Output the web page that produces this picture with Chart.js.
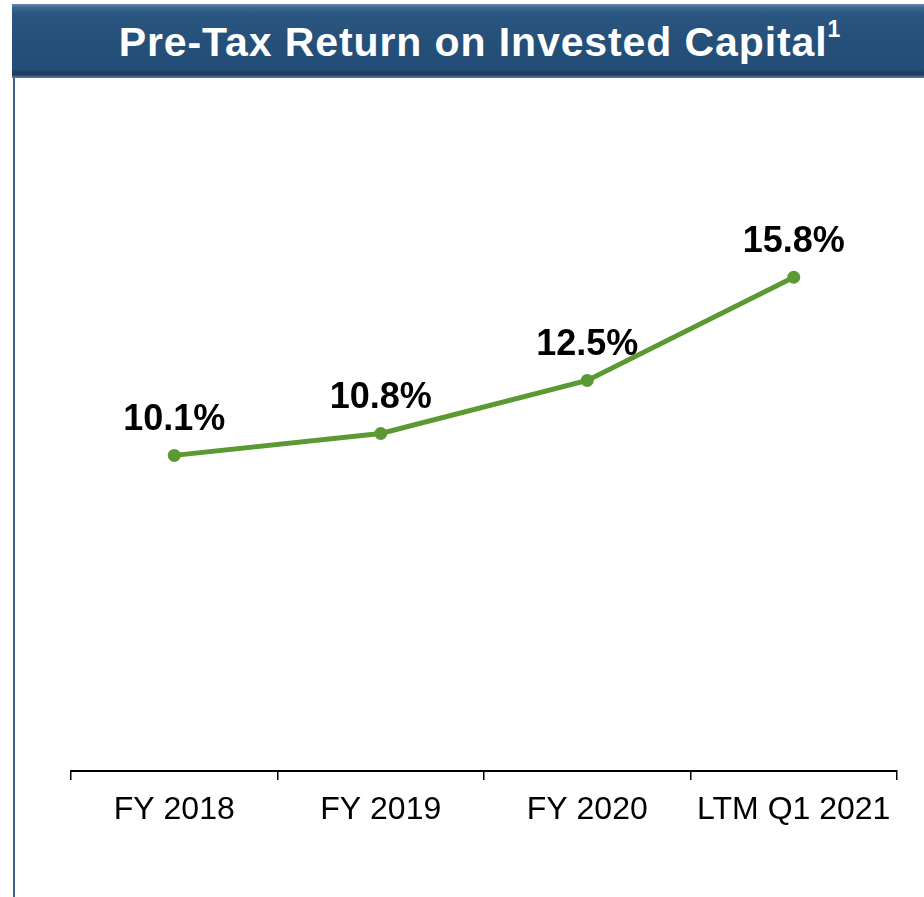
<!DOCTYPE html>
<html>
<head>
<meta charset="utf-8">
<script src="https://cdn.jsdelivr.net/npm/chart.js@4.4.0/dist/chart.umd.min.js"></script>
<style>
    body {
        margin: 0;
        width: 924px;
        height: 897px;
        background: #ffffff;
        position: relative;
        overflow: hidden;
        font-family: 'Liberation Sans', Arial, sans-serif;
    }
    #title-bar {
        position: absolute;
        left: 12px;
        top: 4px;
        width: 912px;
        height: 74px;
        background: linear-gradient(to bottom, #6f8fb4 0px, #3e6891 3px, #2a5680 10px, #245079 50%, #234d76 88%, #1b3a5a 95%, #5f7fa5 100%);
        color: #ffffff;
        font-weight: bold;
        font-size: 41px;
        letter-spacing: 0.9px;
        line-height: 76px;
        text-align: center;
        box-sizing: border-box;
        padding-left: 24px;
    }
    #title-bar sup {
        font-size: 23px;
        line-height: 0;
        position: relative;
        top: -4px;
    }
    #left-border {
        position: absolute;
        left: 13px;
        top: 78px;
        width: 2px;
        height: 819px;
        background: #3d5f88;
    }
    #chart-wrap {
        position: absolute;
        left: 0;
        top: 80px;
        width: 924px;
        height: 817px;
    }
</style>
</head>
<body>
<div id="title-bar">Pre-Tax Return on Invested Capital<sup>1</sup></div>
<div id="left-border"></div>
<div id="chart-wrap"><canvas id="roicChart" width="924" height="817"></canvas></div>

<script>
const categories = ['FY 2018', 'FY 2019', 'FY 2020', 'LTM Q1 2021'];
const roicValues = [10.1, 10.8, 12.5, 15.8];

const lineGreen = '#5b9a32';

// draws the "10.1%" style labels above each point
const pointLabels = {
    id: 'pointLabels',
    afterDatasetsDraw: function(chart) {
        const ctx = chart.ctx;
        const meta = chart.getDatasetMeta(0);
        ctx.save();
        ctx.font = 'bold 36px "Liberation Sans", Arial, sans-serif';
        ctx.fillStyle = '#000000';
        ctx.textAlign = 'center';
        ctx.textBaseline = 'middle';
        for (let i = 0; i < meta.data.length; i++) {
            const pt = meta.data[i];
            ctx.fillText(roicValues[i].toFixed(1) + '%', pt.x, pt.y - 35);
        }
        ctx.restore();
    }
};

const ctx = document.getElementById('roicChart').getContext('2d');
const roicChart = new Chart(ctx, {
    type: 'line',
    data: {
        labels: categories,
        datasets: [{
            label: 'Pre-Tax ROIC',
            data: roicValues,
            borderColor: lineGreen,
            backgroundColor: lineGreen,
            borderWidth: 5,
            pointRadius: 6.5,
            pointBorderWidth: 0,
            pointBackgroundColor: lineGreen,
            tension: 0,
            fill: false
        }]
    },
    options: {
        responsive: false,
        animation: false,
        layout: {
            padding: { left: 71, right: 27, top: 66, bottom: 0 }
        },
        plugins: {
            legend: { display: false },
            title: { display: false },
            tooltip: { enabled: false }
        },
        scales: {
            x: {
                type: 'category',
                offset: true,
                afterFit: function(scale) {
                    scale.height = 126;
                },
                grid: {
                    offset: true,
                    drawOnChartArea: false,
                    drawTicks: true,
                    tickLength: 9,
                    color: '#000000',
                    lineWidth: 1.5
                },
                border: {
                    display: true,
                    color: '#000000',
                    width: 2
                },
                ticks: {
                    color: '#000000',
                    padding: 11,
                    maxRotation: 0,
                    font: {
                        family: '"Liberation Sans", Arial, sans-serif',
                        size: 32
                    }
                }
            },
            y: {
                display: false,
                min: 0,
                max: 20
            }
        }
    },
    plugins: [pointLabels]
});
</script>
</body>
</html>
